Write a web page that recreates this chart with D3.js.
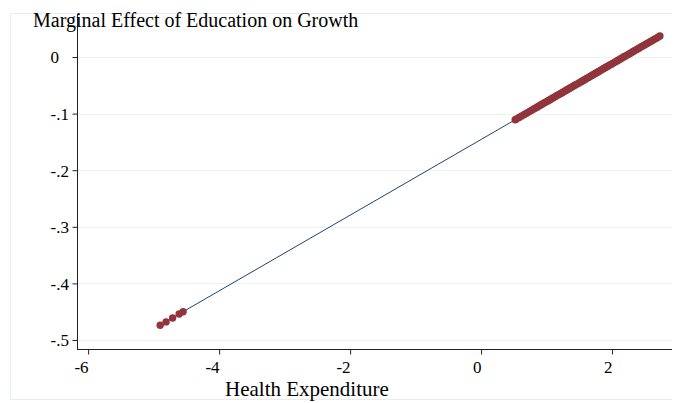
<!DOCTYPE html>
<html>
<head>
<meta charset="utf-8">
<script src="https://cdn.jsdelivr.net/npm/d3@7"></script>
<style>
  html, body { margin: 0; padding: 0; background: #fff; }
  svg, svg text { font-family: "Liberation Serif", "Times New Roman", serif !important; }
  svg { display: block; }
</style>
</head>
<body>
<svg id="chart" width="676" height="403"></svg>
<script>
// Health expenditure values and the marginal effect of education at each one
const healthExp = [
  -4.90, -4.81, -4.71, -4.61, -4.55,
  0.52, 0.54, 0.58, 0.62, 0.66, 0.69, 0.71, 0.745, 0.78, 0.81,
  0.84, 0.865, 0.89, 0.91, 0.93, 0.955, 0.98, 1.005, 1.03, 1.05,
  1.07, 1.095, 1.12, 1.14, 1.16, 1.185, 1.21, 1.23, 1.25, 1.275,
  1.30, 1.32, 1.34, 1.36, 1.38, 1.405, 1.43, 1.45, 1.47, 1.495,
  1.52, 1.54, 1.56, 1.58, 1.60, 1.62, 1.64, 1.665, 1.69, 1.71,
  1.73, 1.75, 1.77, 1.79, 1.81, 1.835, 1.86, 1.88, 1.90, 1.92,
  1.94, 1.965, 1.99, 2.01, 2.03, 2.055, 2.08, 2.10, 2.12, 2.145,
  2.17, 2.19, 2.21, 2.235, 2.26, 2.285, 2.31, 2.335, 2.36, 2.385,
  2.41, 2.435, 2.46, 2.49, 2.52, 2.55, 2.58, 2.61, 2.64, 2.67,
  2.70, 2.73
];
const marginalEffect = [
  -0.474, -0.468, -0.461, -0.454, -0.450,
  -0.1109, -0.1096, -0.1069, -0.1042, -0.1015, -0.0995, -0.0982, -0.0959, -0.0935, -0.0915,
  -0.0895, -0.0878, -0.0862, -0.0848, -0.0835, -0.0818, -0.0801, -0.0785, -0.0768, -0.0755,
  -0.0741, -0.0724, -0.0708, -0.0694, -0.0681, -0.0664, -0.0648, -0.0634, -0.0621, -0.0604,
  -0.0587, -0.0574, -0.0561, -0.0547, -0.0534, -0.0517, -0.0500, -0.0487, -0.0474, -0.0457,
  -0.0440, -0.0427, -0.0413, -0.0400, -0.0387, -0.0373, -0.0360, -0.0343, -0.0326, -0.0313,
  -0.0300, -0.0286, -0.0273, -0.0260, -0.0246, -0.0229, -0.0213, -0.0199, -0.0186, -0.0173,
  -0.0159, -0.0142, -0.0126, -0.0112, -0.0099, -0.0082, -0.0065, -0.0052, -0.0039, -0.0022,
  -0.0005, 0.0008, 0.0021, 0.0038, 0.0055, 0.0072, 0.0088, 0.0105, 0.0122, 0.0139,
  0.0155, 0.0172, 0.0189, 0.0209, 0.0229, 0.0249, 0.0269, 0.0289, 0.0309, 0.0329,
  0.0349, 0.0370
];
const xTicks = [-6, -4, -2, 0, 2];
const yTicks = [0, -0.1, -0.2, -0.3, -0.4, -0.5];
const yTickLabels = ["0", "-.1", "-.2", "-.3", "-.4", "-.5"];

const points = healthExp.map((h, i) => ({ x: h, y: marginalEffect[i] }));

const serif = '"Liberation Serif", "Times New Roman", serif';
const svg = d3.select("#chart");
const plotLeft = 77, plotRight = 672, plotTop = 14, plotBottom = 349;

// Graph region outline
svg.append("path")
  .attr("d", `M672,13.5 H10.5 V399.5 H672`)
  .attr("fill", "none")
  .attr("stroke", "#e6eef0")
  .attr("stroke-width", 1);

const x = d3.scaleLinear().domain([-6.17, 2.915]).range([plotLeft, plotRight]);
const y = d3.scaleLinear().domain([-0.5159, 0.0760]).range([plotBottom, plotTop]);

// Horizontal gridlines
svg.append("g")
  .selectAll("line")
  .data(yTicks)
  .join("line")
  .attr("x1", plotLeft).attr("x2", plotRight)
  .attr("y1", d => Math.round(y(d)) + 0.5)
  .attr("y2", d => Math.round(y(d)) + 0.5)
  .attr("stroke", "#eaf2f3")
  .attr("stroke-width", 1);

// Fitted line
svg.append("path")
  .datum(points)
  .attr("fill", "none")
  .attr("stroke", "#1a476f")
  .attr("stroke-width", 1)
  .attr("d", d3.line().x(d => x(d.x)).y(d => y(d.y)));

// Point markers
svg.append("g")
  .selectAll("circle")
  .data(points)
  .join("circle")
  .attr("cx", d => x(d.x))
  .attr("cy", d => y(d.y))
  .attr("r", 3.7)
  .attr("fill", "#90353b");

// Axes
const xAxis = svg.append("g")
  .attr("transform", `translate(0,${plotBottom + 0.5})`)
  .attr("font-family", null)
  .call(d3.axisBottom(x).tickValues(xTicks).tickSize(5).tickSizeOuter(0)
    .tickFormat(d3.format("d")));
xAxis.attr("font-family", null).attr("font-size", null);
xAxis.select(".domain").attr("d", `M${plotLeft},0H${plotRight}`).attr("stroke", "#222");
xAxis.selectAll(".tick line").attr("stroke", "#222");
xAxis.selectAll(".tick text")
  .attr("fill", "#000")
  .style("font-family", serif)
  .style("font-size", "17px")
  .attr("text-anchor", "end")
  .attr("x", 0)
  .attr("y", 23)
  .attr("dy", 0)
  .text(d => String(d));

const yAxis = svg.append("g")
  .attr("transform", `translate(${plotLeft + 0.5},0)`)
  .call(d3.axisLeft(y).tickValues(yTicks).tickSize(5).tickSizeOuter(0)
    .tickFormat((d, i) => yTickLabels[i]));
yAxis.attr("font-family", null).attr("font-size", null);
yAxis.select(".domain").attr("d", `M0,${plotTop}V${plotBottom + 0.5}`).attr("stroke", "#222");
yAxis.selectAll(".tick line").attr("stroke", "#222");
yAxis.selectAll(".tick text")
  .attr("fill", "#000")
  .style("font-family", serif)
  .style("font-size", "17px")
  .attr("text-anchor", "start")
  .attr("x", -27)
  .attr("dy", "0.35em");

// Titles
svg.append("text")
  .attr("x", 33).attr("y", 27)
  .style("font-family", serif)
  .style("font-size", "20px")
  .attr("fill", "#000")
  .text("Marginal Effect of Education on Growth");

svg.append("text")
  .attr("x", 225).attr("y", 396)
  .style("font-family", serif)
  .style("font-size", "21px")
  .attr("fill", "#000")
  .text("Health Expenditure");
</script>
</body>
</html>
